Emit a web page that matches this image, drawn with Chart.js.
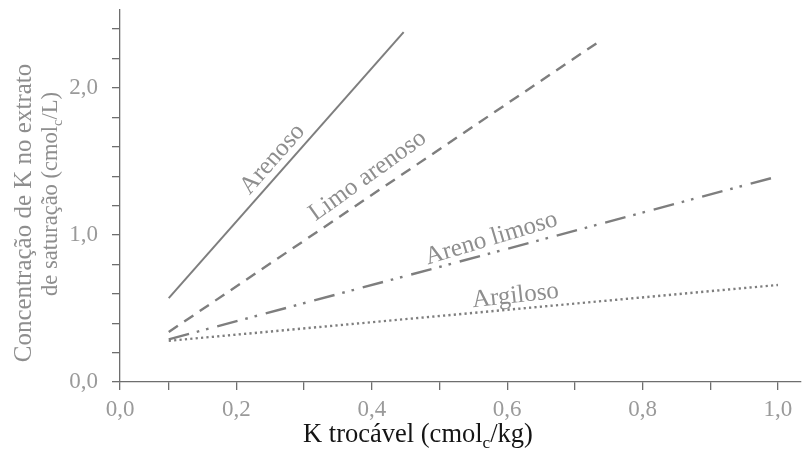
<!DOCTYPE html>
<html>
<head>
<meta charset="utf-8">
<script src="https://cdn.jsdelivr.net/npm/chart.js@4.4.1/dist/chart.umd.min.js"></script>
<style>
  html, body { margin: 0; padding: 0; background: #fff; }
  #wrap { width: 802px; height: 466px; position: relative; }
</style>
</head>
<body>
<div id="wrap"><canvas id="chart"></canvas></div>
<script>
// Soil textures and their K relationships (start / end of each line)
const soilNames = ['Arenoso', 'Limo arenoso', 'Areno limoso', 'Argiloso'];
const kExchangeable = [
  [0.10, 0.447],
  [0.10, 0.734],
  [0.10, 0.993],
  [0.10, 1.000]
];
const kSaturationExtract = [
  [0.57, 2.38],
  [0.34, 2.31],
  [0.29, 1.39],
  [0.28, 0.66]
];

// Axis ranges and tick marks
const xAxisStart = 0.028;
const xAxisEnd = 1.034;
const yAxisEnd = 2.53;
const xTickValues = [0.028, 0.1, 0.2, 0.3, 0.4, 0.5, 0.6, 0.7, 0.8, 0.9, 1.0];
const xTickLabels = ['0,0', '', '0,2', '', '0,4', '', '0,6', '', '0,8', '', '1,0'];
const yTickValues = [0, 0.2, 0.4, 0.6, 0.8, 1.0, 1.2, 1.4, 1.6, 1.8, 2.0, 2.2, 2.4];
const yTickLabels = ['0,0', '', '', '', '', '1,0', '', '', '', '', '2,0', '', ''];

// Where each soil name sits along its line (x value) and how far above it
const labelAlongX = [0.269, 0.409, 0.582, 0.614];
const labelLift = [14, 18, 14, 13];
const labelTilt = [0, -0.03, -0.03, -0.02];

const FONT = "'Liberation Serif', 'Times New Roman', serif";
const LINE_GREY = '#7e7e7e';
const TEXT_GREY = '#8e8e8e';

const dashes = [
  [],
  [11, 7.7],
  [21, 8, 2.6, 7, 2.6, 9],
  [2.2, 3.2]
];

const datasets = soilNames.map((name, i) => ({
  label: name,
  data: kExchangeable[i].map((x, j) => ({ x, y: kSaturationExtract[i][j] })),
  showLine: true,
  borderColor: LINE_GREY,
  borderWidth: i === 0 ? 2 : 2.4,
  borderDash: dashes[i],
  pointRadius: 0,
  pointHoverRadius: 0,
  fill: false
}));

// Writes text with optional subscript pieces, centred on (cx, cy)
function drawRichText(ctx, parts, cx, cy, size, color) {
  ctx.fillStyle = color;
  ctx.textBaseline = 'alphabetic';
  ctx.textAlign = 'left';
  let total = 0;
  const widths = parts.map(p => {
    ctx.font = (p.sub ? size * 0.65 : size) + 'px ' + FONT;
    const w = ctx.measureText(p.t).width;
    total += w;
    return w;
  });
  let x = cx - total / 2;
  const base = cy + size * 0.33;
  parts.forEach((p, k) => {
    ctx.font = (p.sub ? size * 0.65 : size) + 'px ' + FONT;
    ctx.fillText(p.t, x, p.sub ? base + size * 0.22 : base);
    x += widths[k];
  });
}

const textPlugin = {
  id: 'soilText',
  afterDatasetsDraw(chart) {
    const ctx = chart.ctx;
    const xs = chart.scales.x;
    ctx.save();
    chart.data.datasets.forEach((ds, i) => {
      const pts = chart.getDatasetMeta(i).data;
      const a = pts[0], b = pts[1];
      const ang = Math.atan2(b.y - a.y, b.x - a.x);
      const px = xs.getPixelForValue(labelAlongX[i]);
      const t = (px - a.x) / (b.x - a.x);
      const py = a.y + t * (b.y - a.y);
      const nx = Math.sin(ang), ny = -Math.cos(ang);
      const cx = px + labelLift[i] * nx;
      const cy = py + labelLift[i] * ny;
      ctx.save();
      ctx.translate(cx, cy);
      ctx.rotate(ang + labelTilt[i]);
      ctx.font = '25px ' + FONT;
      ctx.fillStyle = TEXT_GREY;
      ctx.textAlign = 'center';
      ctx.textBaseline = 'middle';
      ctx.fillText(ds.label, 0, 0);
      ctx.restore();
    });
    ctx.restore();
  },
  afterDraw(chart) {
    const ctx = chart.ctx;
    ctx.save();
    // x axis title
    drawRichText(ctx, [{ t: 'K trocável (cmol' }, { t: 'c', sub: true }, { t: '/kg)' }],
      418, 433, 26.5, '#141414');
    // y axis title, two rotated lines
    ctx.save();
    ctx.translate(23, 213);
    ctx.rotate(-Math.PI / 2);
    drawRichText(ctx, [{ t: 'Concentração de K no extrato' }], 0, 0, 25, TEXT_GREY);
    ctx.restore();
    ctx.save();
    ctx.translate(50, 194);
    ctx.rotate(-Math.PI / 2);
    drawRichText(ctx, [{ t: 'de saturação (cmol' }, { t: 'c', sub: true }, { t: '/L)' }], 0, 0, 22.5, TEXT_GREY);
    ctx.restore();
    ctx.restore();
  }
};

new Chart(document.getElementById('chart'), {
  type: 'scatter',
  data: { datasets },
  plugins: [textPlugin],
  options: {
    responsive: true,
    maintainAspectRatio: false,
    animation: false,
    events: [],
    layout: { padding: { top: 10, right: 1, left: 0, bottom: 0 } },
    plugins: { legend: { display: false }, tooltip: { enabled: false } },
    scales: {
      x: {
        type: 'linear',
        min: xAxisStart,
        max: xAxisEnd,
        afterBuildTicks: s => { s.ticks = xTickValues.map(v => ({ value: v })); },
        afterFit: s => { s.height = 84; s.paddingLeft = 0; s.paddingRight = 0; },
        border: { display: true, color: '#6e6e6e', width: 1.3 },
        grid: { drawOnChartArea: false, drawTicks: true, tickLength: 8, color: '#6e6e6e', lineWidth: 1.3 },
        ticks: {
          autoSkip: false, maxRotation: 0, padding: 6,
          color: '#9a9a9a',
          font: { family: FONT, size: 23 },
          callback: (v, idx) => xTickLabels[idx]
        }
      },
      y: {
        type: 'linear',
        min: 0,
        max: yAxisEnd,
        afterBuildTicks: s => { s.ticks = yTickValues.map(v => ({ value: v })); },
        afterFit: s => { s.width = 120; s.paddingTop = 0; s.paddingBottom = 0; },
        border: { display: true, color: '#6e6e6e', width: 1.3 },
        grid: { drawOnChartArea: false, drawTicks: true, tickLength: 8, color: '#6e6e6e', lineWidth: 1.3 },
        ticks: {
          autoSkip: false, padding: 14,
          color: '#9a9a9a',
          font: { family: FONT, size: 23 },
          callback: (v, idx) => yTickLabels[idx]
        }
      }
    }
  }
});
</script>
</body>
</html>
